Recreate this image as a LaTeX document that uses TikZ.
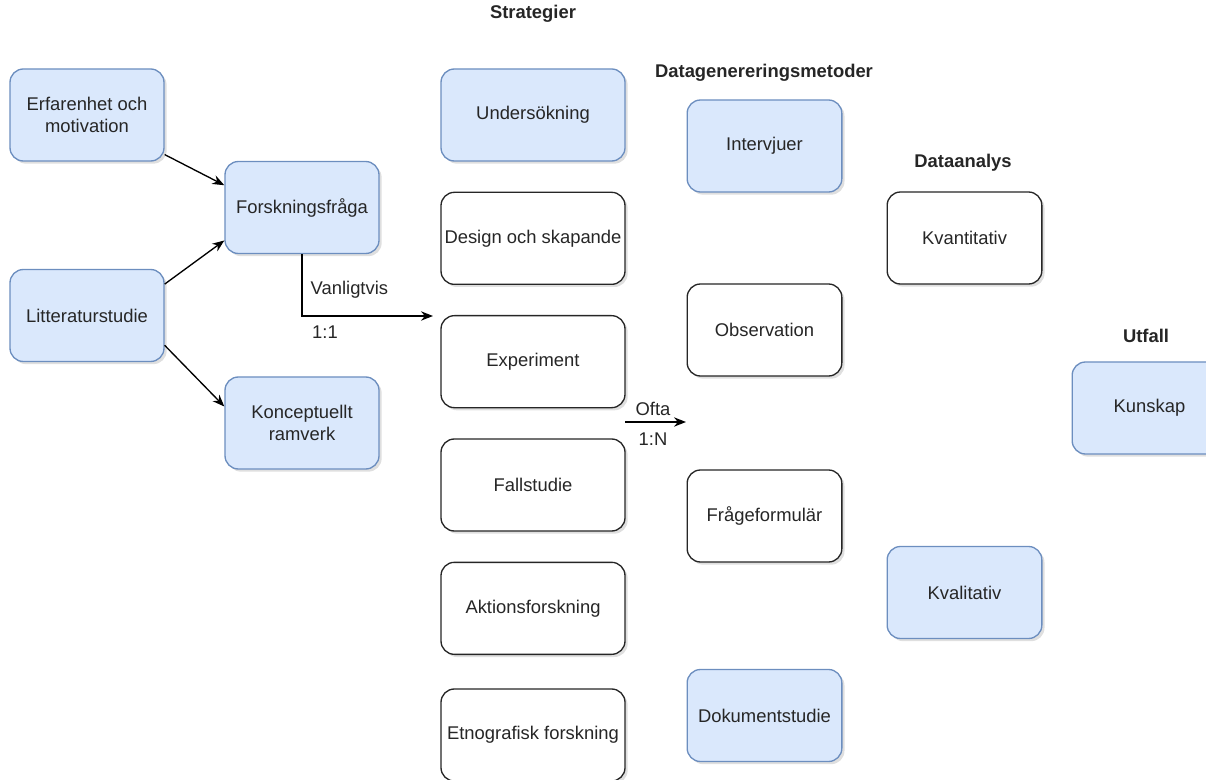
\documentclass[tikz,border=0pt]{standalone}
\usepackage{fontspec}
\setmainfont{Liberation Sans}
\usetikzlibrary{arrows.meta, positioning, shadows}

\definecolor{boxblue}{HTML}{DAE8FC}
\definecolor{edgeblue}{HTML}{6C8EBF}

\begin{document}
\begin{tikzpicture}[x=0.75pt, y=-0.75pt, node distance=22.5pt,
    every node/.style={font=\fontsize{13.8pt}{16.5pt}\selectfont, text=black!85},
    box/.style={rounded corners=10pt, draw, line width=1pt, align=center, minimum height=69pt, inner sep=2pt,
        drop shadow={shadow xshift=2pt, shadow yshift=-2pt, opacity=0.25}},
    bluebox/.style={box, fill=boxblue, draw=edgeblue, minimum width=116pt},
    whitebox/.style={box, fill=white, draw=black!85, minimum width=116pt},
    stratbox/.style={minimum width=138pt},
    heading/.style={font=\fontsize{13.8pt}{16.5pt}\selectfont\bfseries},
    >={Stealth[length=9pt, width=7pt]}]

    \useasboundingbox (0,0) rectangle (1206,780);
    \clip (0,0) rectangle (1206,780);

    % Nodes
    \node (erf) [bluebox, minimum width=115.5pt] at (87,115) {Erfarenhet och\\motivation};
    \node (forsk) [bluebox, minimum width=115.5pt] at (302,207.5) {Forskningsfråga};
    \node (litt) [bluebox, minimum width=115.5pt] at (87,315.5) {Litteraturstudie};
    \node (konc) [bluebox, minimum width=115.5pt] at (302,423) {Konceptuellt\\ramverk};

    % Strategier
    \node (strat) [heading] at (533,14) {Strategier};
    \node (unders) [bluebox, stratbox] at (533,115) {Undersökning};
    \node (design) [whitebox, stratbox, below=of unders] {Design och skapande};
    \node (exp) [whitebox, stratbox, below=of design] {Experiment};
    \node (fall) [whitebox, stratbox, below=of exp] {Fallstudie};
    \node (akt) [whitebox, stratbox, below=of fall] {Aktionsforskning};
    \node (etno) [whitebox, stratbox, below=25pt of akt] {Etnografisk forskning};

    % Datagenereringsmetoder
    \node (metod) [heading] at (764,73) {Datagenereringsmetoder};
    \node (interv) [bluebox] at (764.5,146) {Intervjuer};
    \node (obs) [whitebox] at (764.5,330) {Observation};
    \node (fraga) [whitebox] at (764.5,516) {Frågeformulär};
    \node (dok) [bluebox] at (764.5,715.5) {Dokumentstudie};

    % Dataanalys och utfall
    \node (analys) [heading] at (963,163) {Dataanalys};
    \node (kvant) [whitebox] at (964.5,238) {Kvantitativ};
    \node (kval) [bluebox] at (964.5,592.5) {Kvalitativ};
    \node (utfall) [heading] at (1146,336) {Utfall};
    \node (kunsk) [bluebox] at (1149.5,408) {Kunskap};

    % Labels
    \node (vanLbl) [anchor=west] at (306,290) {Vanligtvis};
    \node (vanNum) at (325,332) {1:1};
    \node (oftaLbl) at (653,409) {Ofta};
    \node (oftaNum) at (653,439) {1:N};
    \coordinate (vanEnd) at (433,316);
    \coordinate (oftaStart) at (625,422);
    \coordinate (oftaEnd) at (686,422);

    % Arrows
    \draw[->, line width=1pt] (erf.-27) -- (forsk.164);
    \draw[->, line width=1pt] (litt.22) -- (forsk.-157);
    \draw[->, line width=1pt] (litt.-21) -- (konc.168);
    \draw[->, line width=1pt] (forsk.south) |- (vanEnd);
    \draw[->, line width=1pt] (oftaStart) -- (oftaEnd);
\end{tikzpicture}
\end{document}
